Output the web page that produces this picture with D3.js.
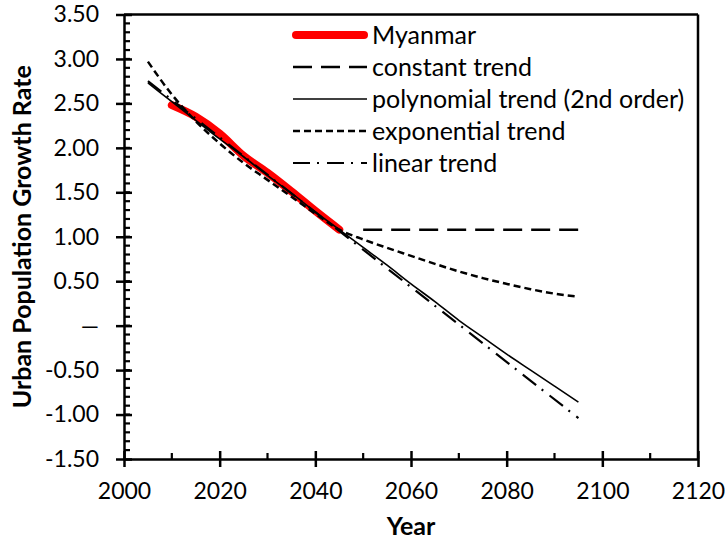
<!DOCTYPE html>
<html>
<head>
<meta charset="utf-8">
<script src="https://cdn.jsdelivr.net/npm/d3@7"></script>
<style>
  html, body { margin: 0; padding: 0; background: #fff; }
  svg { display: block; font-family: Lato, Carlito, Calibri, sans-serif; }
</style>
</head>
<body>
<svg id="chart" width="725" height="550"></svg>
<script>
// ---------------- data ----------------
const myanmarYears  = [2010, 2015, 2020, 2025, 2030, 2035, 2040, 2045];
const myanmarValues = [2.48, 2.35, 2.16, 1.91, 1.72, 1.51, 1.29, 1.08];

const constantYears  = [2050, 2095];
const constantValues = [1.08, 1.08];

const trendYears = [2005, 2010, 2015, 2020, 2025, 2030, 2035, 2040, 2045, 2050,
                    2055, 2060, 2065, 2070, 2075, 2080, 2085, 2090, 2095];
const polynomialValues  = [2.73, 2.52, 2.31, 2.10, 1.90, 1.69, 1.49, 1.28, 1.08, 0.88,
                           0.68, 0.47, 0.27, 0.06, -0.13, -0.32, -0.50, -0.68, -0.86];
const exponentialValues = [2.97, 2.60, 2.30, 2.05, 1.83, 1.64, 1.45, 1.26, 1.08, 0.97,
                           0.875, 0.785, 0.695, 0.61, 0.535, 0.47, 0.41, 0.36, 0.325];

const linearYears  = [2005, 2095];
const linearValues = [2.75, -1.04];

const xTickValues = [2000, 2020, 2040, 2060, 2080, 2100, 2120];
const xTickLabels = ["2000", "2020", "2040", "2060", "2080", "2100", "2120"];
const xMinorTicks = [2010, 2030, 2050, 2070, 2090, 2110];
const yTickValues = [-1.5, -1.0, -0.5, 0, 0.5, 1.0, 1.5, 2.0, 2.5, 3.0, 3.5];
const yTickLabels = ["-1.50", "-1.00", "-0.50", "\u2014", "0.50", "1.00", "1.50", "2.00", "2.50", "3.00", "3.50"];
const yMinorTicks = d3.range(-14, 35).map(i => i / 10);

const legendLabels = ["Myanmar", "constant trend", "polynomial trend (2nd order)", "exponential trend", "linear trend"];

// ---------------- layout ----------------
const svg = d3.select("#chart");
const X0 = 124, X1 = 698, Y0 = 459, Y1 = 14.5;
const x = d3.scaleLinear().domain([2000, 2120]).range([X0, X1]);
const y = d3.scaleLinear().domain([-1.5, 3.5]).range([Y0, Y1]);
const FS = 23, FS_TEXT = 25;

const styles = [
  { color: "#ff0000", width: 8, dash: null, cap: "round" },
  { color: "#000", width: 2.5, dash: "19,9", cap: "butt" },
  { color: "#000", width: 1.6, dash: null, cap: "butt" },
  { color: "#000", width: 2.5, dash: "7,4", cap: "butt" },
  { color: "#000", width: 2.2, dash: "17,7,2,8", cap: "butt" }
];

// frame (top / right)
svg.append("line").attr("x1", X0).attr("x2", X1).attr("y1", Y1).attr("y2", Y1)
  .attr("stroke", "#000").attr("stroke-width", 2.5);
svg.append("line").attr("x1", X1).attr("x2", X1).attr("y1", Y1).attr("y2", Y0)
  .attr("stroke", "#000").attr("stroke-width", 2.5);

// minor ticks
svg.append("g").selectAll("line").data(yMinorTicks).join("line")
  .attr("x1", X0).attr("x2", X0 + 6).attr("y1", d => y(d)).attr("y2", d => y(d))
  .attr("stroke", "#000").attr("stroke-width", 2.2);
svg.append("g").selectAll("line").data(xMinorTicks).join("line")
  .attr("x1", d => x(d)).attr("x2", d => x(d)).attr("y1", Y0).attr("y2", Y0 - 6)
  .attr("stroke", "#000").attr("stroke-width", 2.2);

// axes via d3
const yAxis = d3.axisLeft(y).tickValues(yTickValues).tickSizeInner(8).tickSizeOuter(0)
  .tickPadding(17).tickFormat((d, i) => yTickLabels[i]);
const gy = svg.append("g").attr("transform", `translate(${X0},0)`).call(yAxis);
const xAxis = d3.axisBottom(x).tickValues(xTickValues).tickSizeInner(8).tickSizeOuter(0)
  .tickPadding(18).tickFormat((d, i) => xTickLabels[i]);
const gx = svg.append("g").attr("transform", `translate(0,${Y0})`).call(xAxis);

[gx, gy].forEach(g => {
  g.select(".domain").attr("stroke", "#000").attr("stroke-width", 2.5);
  g.selectAll(".tick line").attr("stroke", "#000").attr("stroke-width", 2.5);
  g.selectAll(".tick text").attr("fill", "#000").style("font-size", FS + "px")
    .style("font-family", "Lato, Carlito, Calibri, sans-serif");
});
// extend major ticks inward too
gy.selectAll(".tick line").attr("x1", 8).attr("x2", -8);
gx.selectAll(".tick line").attr("y1", -8).attr("y2", 8);
gy.selectAll(".tick text").attr("x", -25);
gx.selectAll(".tick text").attr("y", 24);

// series
const series = [
  d3.zip(myanmarYears, myanmarValues),
  d3.zip(constantYears, constantValues),
  d3.zip(trendYears, polynomialValues),
  d3.zip(trendYears, exponentialValues),
  d3.zip(linearYears, linearValues)
];
const drawOrder = [0, 1, 3, 2, 4];
drawOrder.forEach(i => {
  const s = styles[i];
  const lg = d3.line().x(d => x(d[0])).y(d => y(d[1])).curve(i === 0 || i === 2 || i === 3 ? d3.curveMonotoneX : d3.curveLinear);
  svg.append("path").datum(series[i]).attr("d", lg)
    .attr("fill", "none").attr("stroke", s.color).attr("stroke-width", s.width)
    .attr("stroke-dasharray", s.dash).attr("stroke-linecap", s.cap).attr("stroke-linejoin", "round");
});

// legend
const legY0 = 35, legDY = 32, legX0 = 293, legX1 = 367;
const leg = svg.append("g");
legendLabels.forEach((lab, i) => {
  const s = styles[i];
  const cy = legY0 + i * legDY;
  leg.append("line").attr("x1", legX0 + (i === 0 ? 3 : 0)).attr("x2", legX1 - (i === 0 ? 3 : 0))
    .attr("y1", cy).attr("y2", cy)
    .attr("stroke", s.color).attr("stroke-width", s.width)
    .attr("stroke-dasharray", s.dash).attr("stroke-linecap", s.cap);
  leg.append("text").attr("x", 372).attr("y", cy + 8.5).text(lab)
    .style("font-size", FS_TEXT + "px").attr("fill", "#000");
});

// axis titles
svg.append("text").attr("transform", `translate(31,${(Y0 + Y1) / 2}) rotate(-90)`)
  .attr("text-anchor", "middle").style("font-size", FS_TEXT + "px").style("font-weight", "bold")
  .text("Urban Population Growth Rate");
svg.append("text").attr("x", (X0 + X1) / 2).attr("y", 535)
  .attr("text-anchor", "middle").style("font-size", FS_TEXT + "px").style("font-weight", "bold")
  .text("Year");
</script>
</body>
</html>
